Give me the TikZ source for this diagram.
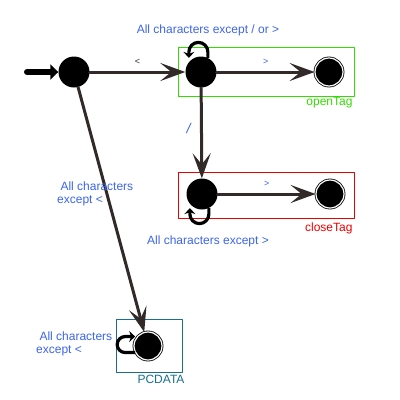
\documentclass[tikz,border=0pt]{standalone}
\usepackage{fontspec}
\setmainfont{Liberation Sans}
\usetikzlibrary{arrows.meta}
\definecolor{lblue}{RGB}{60,100,235}
\definecolor{lgreen}{RGB}{50,220,0}
\definecolor{lred}{RGB}{235,0,0}
\definecolor{lteal}{RGB}{25,110,140}
\definecolor{edgec}{RGB}{50,42,40}
\begin{document}
\begin{tikzpicture}[x=1pt, y=-1pt, font=\fontsize{12}{13}\selectfont, line join=round, line cap=round,
	state/.style={circle, fill=black, inner sep=0pt, minimum size=31pt},
	final/.style={circle, fill=black, draw=black, double=white, double distance=1.2pt, line width=0.8pt, inner sep=0pt, minimum size=28pt},
	trans/.style={draw=edgec, line width=3pt, -{Stealth[length=25pt, width=18pt, inset=11pt]}},
	selfloop/.style={draw=black, line width=3.2pt, line cap=butt, -{Stealth[length=6pt, width=11pt]}},
	lbl/.style={text=lblue, align=left, anchor=west, inner sep=0pt}]
	\useasboundingbox (0,0) rectangle (400,400);
	% states
	\node[state] (start) at (74,72) {};
	\node[state] (open) at (201,72) {};
	\node[final] (openEnd) at (329,72) {};
	\node[state] (close) at (202,194) {};
	\node[final] (closeEnd) at (330,194) {};
	\node[final] (pcdata) at (148,346) {};
	\coordinate (entry) at (27,72);
	% groups
	\draw[lgreen, line width=0.8pt] (178,47) rectangle (354,96);
	\node[text=lgreen, anchor=east] (openName) at (356,103) {openTag};
	\draw[lred, line width=0.8pt] (178,172) rectangle (354,218);
	\node[text=lred, anchor=east] (closeName) at (356,228) {closeTag};
	\draw[lteal, line width=0.8pt] (116,319) rectangle (182,372);
	\node[text=lteal] (pcName) at (161,379) {PCDATA};
	% transitions
	\draw[line width=6pt, -{Triangle[length=8pt, width=15pt]}] (entry) -- (start);
	\draw[trans] (start) -- node[above=3pt, text=edgec, font=\fontsize{9}{10}\selectfont] (ltLbl) {<} (open);
	\draw[trans] (open) -- node[above=3pt, text=lblue, font=\fontsize{9}{10}\selectfont] (gtLbl) {>} (openEnd);
	\draw[trans] (open) -- node[left=6pt, pos=0.45, text=lblue, font=\fontsize{14}{15}\selectfont\itshape] (slLbl) {/} (close);
	\draw[trans] (close) -- node[above=3pt, text=lblue, font=\fontsize{9}{10}\selectfont] (gt2Lbl) {>} (closeEnd);
	\draw[trans] (start) -- (pcdata);
	% loops
	\draw[selfloop] (open.64) -- ++(0,-6) arc[start angle=0, end angle=-180, radius=9.5] -- ++(0,6);
	\draw[selfloop] (close.-64) -- ++(0,6) arc[start angle=0, end angle=180, radius=9.5] -- ++(0,-6);
	\draw[selfloop] (pcdata.-153) -- ++(-10,0) arc[start angle=90, end angle=270, radius=8] -- ++(10,0);
	% labels
	\node[lbl, anchor=center] (openLoop) at (208,30) {All characters except / or >};
	\node[lbl, anchor=center] (closeLoop) at (208,241) {All characters except >};
	\node[lbl] (diagLbl) at (57,194) {\ All characters\\except <};
	\node[lbl] (pcLoop) at (36,344) {\ All characters\\except <};
\end{tikzpicture}
\end{document}
